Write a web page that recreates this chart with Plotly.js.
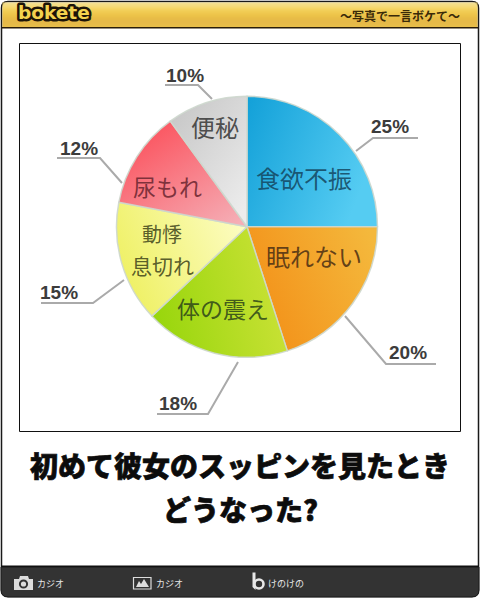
<!DOCTYPE html>
<html><head><meta charset="utf-8">
<script src="https://cdn.plot.ly/plotly-3.0.1.min.js"></script>
<style>html,body{margin:0;padding:0;background:#fff}#c{width:480px;height:598px}</style>
</head><body><div id="c"></div>
<script>
const categories = ['食欲不振','眠れない','体の震え','動悸 息切れ','尿もれ','便秘'];
const values = [25,20,18,15,12,10];
const percentLabels = ['25%','20%','18%','15%','12%','10%'];
const midColors = ['#36b4e4','#f4a52c','#b0dc24','#f6f68c','#f8808a','#d8d8d8'];
const gradientStops = [
  ['#12a0d8','#55ccf2',0,0,1,0.4],
  ['#f39018','#f4b83c',0,0.6,1,0.2],
  ['#98d60c','#cce238',0,0.6,1,0.4],
  ['#eef060','#fcfcc0',0,0.7,1,0.3],
  ['#fb5560','#f5aeb6',0.2,0.1,0.9,1],
  ['#c4c4c4','#ececec',0,0,0.8,1]
];
const W = 480, H = 598;
const px = x => x / W, py = y => 1 - y / H;
const font = 'Noto Sans CJK JP';

const shapes = [];
const rect = (x0,y0,x1,y1,fill,line,lw) => shapes.push({type:'rect',xref:'paper',yref:'paper',layer:'below',
  x0:px(x0),x1:px(x1),y0:py(y1),y1:py(y0),fillcolor:fill,line:{color:line||fill,width:lw||0}});
const circle = (cx,cy,r,fill,line,lw) => shapes.push({type:'circle',xref:'paper',yref:'paper',layer:'above',
  x0:px(cx-r),x1:px(cx+r),y0:py(cy+r),y1:py(cy-r),fillcolor:fill,line:{color:line||fill,width:lw||0}});
const path = (d,fill,line,lw,layer) => {
  const t = d.replace(/(-?[\d.]+),(-?[\d.]+)/g,(m,a,b)=>px(+a)+','+py(+b));
  shapes.push({type:'path',xref:'paper',yref:'paper',layer:layer||'below',path:t,fillcolor:fill||'rgba(0,0,0,0)',line:{color:line||'rgba(0,0,0,0)',width:lw||0}});
};
// outer frame
path('M1.5,28 L1.5,8 Q1.5,1.5 8,1.5 L472,1.5 Q478.5,1.5 478.5,8 L478.5,590 Q478.5,596.5 472,596.5 L8,596.5 Q1.5,596.5 1.5,590 Z','#fff','#1a1a1a',1.5);
// header gradient bands
const headerBands = ['#efd578','#f0d468','#f1d25c','#f2d052','#f2cd48','#f2ca3c','#f1c630','#f0c228','#eebe20','#ecba1a','#ebb716','#e9b412','#e7b10f','#e5ae0d','#e3ab0c','#e1a80b','#e0a60b','#dfa40b','#dea30b','#dda20c','#dda20c','#dea30c','#dfa50d','#e0a70e','#e1a90f'];
headerBands.forEach((c,i)=>rect(2.5,2.5+i,477.5,3.5+i,c));
rect(2,27,478,28.5,'#2a1c08');
// footer
path('M1,567 L479,567 L479,590 Q479,597 472,597 L8,597 Q1,597 1,590 Z','#333333','#1a1a1a',1);
rect(1,565.5,479,567,'#111');
// chart frame
rect(19.5,43.5,460.5,431.5,'#fff','#111',1);
// leader lines
const grey='#aaaaaa';
['M356,151 L373,138 L418,138','M345,316 L386,364 L436,364','M238,362 L208,414 L157,414',
 'M124,280 L93,303 L41,303','M122,183 L100,158 L57,158','M212,99 L198,85 L165,85'].forEach(l=>path(l,null,grey,2));
// footer icons
path('M14,579 L19,579 L20,576 L28,576 L29,579 L33,579 L33,590 L14,590 Z','#dcdcdc');
circle(23.5,584,3.6,'#dcdcdc','#333',2);
rect(133.5,577.5,151,589,'#333','#ddd',1.2);
path('M136,587 L139,581 L141,584 L144,579 L149,587 Z','#ddd',null,0,'above');
path('M252.5,572.5 L255.5,572.5 L255.5,590 L252.5,587 Z','#e8e8e8',null,0,'above');
circle(259,584,4.5,'#333','#e8e8e8',2.6);

const ann = (text,x,y,size,color,opts) => Object.assign({text,xref:'paper',yref:'paper',x:px(x),y:py(y),
  xanchor:'center',yanchor:'middle',showarrow:false,font:{family:font,size,color}},opts||{});
const annotations = [
  ann('食欲不振',304,177,24,'rgba(20,70,95,0.85)'),
  ann('眠れない',314,256,24,'rgba(80,50,20,0.88)'),
  ann('体の震え',223,308,23,'rgba(50,75,25,0.9)'),
  ann('動悸',162,233,20,'rgba(70,75,30,0.9)'),
  ann('息切れ',162,265,21,'rgba(70,75,30,0.9)'),
  ann('尿もれ',167,186,23,'rgba(110,40,50,0.88)'),
  ann('便秘',215,127,24,'rgba(60,60,60,0.9)'),
  ann('初めて彼女のスッピンを見たとき',240,465,28,'#0c0c0c',{font:{family:font,size:28,color:'#0c0c0c',weight:900}}),
  ann('どうなった?',240,509,28,'#0c0c0c',{font:{family:font,size:28,color:'#0c0c0c',weight:900}}),
  ann('〜写真で一言ボケて〜',400,16,12,'#3a2a08',{font:{family:font,size:12,color:'#3a2a08',weight:700}}),
  ann('bokete',53.5,13,18.5,'#f3d24e',{font:{family:'DejaVu Sans',size:18.5,color:'#f3d24e',weight:700}}),
  ann('カジオ',50,583,9,'#e6e6e6'),
  ann('カジオ',169,583,9,'#e6e6e6'),
  ann('けのけの',286,583,9,'#e6e6e6')
];
const pctPos = [[390,127],[408,352],[178,403],[59,292],[79,148],[185,75]];
percentLabels.forEach((t,i)=>annotations.push(ann(t,pctPos[i][0],pctPos[i][1],19,'#3c3c3c',
  {font:{family:'Liberation Sans',size:19,color:'#3c3c3c',weight:700}})));

const trace = {type:'pie',labels:categories,values,sort:false,direction:'clockwise',rotation:0,
  textinfo:'none',hoverinfo:'label+percent',showlegend:false,
  marker:{colors:midColors,line:{color:'rgba(205,215,205,0.9)',width:1.5}},
  domain:{x:[px(116.5),px(377.5)],y:[py(357.5),py(96)]}};
const layout = {width:W,height:H,margin:{l:0,r:0,t:0,b:0},paper_bgcolor:'#fff',showlegend:false,shapes,annotations};
Plotly.newPlot('c',[trace],layout,{displayModeBar:false,staticPlot:true}).then(gd=>{
  const NS='http://www.w3.org/2000/svg';
  const svg=gd.querySelector('svg.main-svg');
  const defs=document.createElementNS(NS,'defs');
  gradientStops.forEach((g,i)=>{
    const lg=document.createElementNS(NS,'linearGradient');
    lg.id='sliceGrad'+i;
    ['x1','y1','x2','y2'].forEach((k,j)=>lg.setAttribute(k,g[j+2]));
    [[0,g[0]],[1,g[1]]].forEach(s=>{const st=document.createElementNS(NS,'stop');
      st.setAttribute('offset',s[0]);st.setAttribute('stop-color',s[1]);lg.appendChild(st);});
    defs.appendChild(lg);
  });
  svg.insertBefore(defs,svg.firstChild);
  gd.querySelectorAll('.slice path.surface').forEach((p,i)=>{p.style.fill='url(#sliceGrad'+i+')';});
  gd.querySelectorAll('.annotation-text').forEach(t=>{
    const s=t.textContent;
    if(s==='bokete'){t.style.stroke='#1c1408';t.style.strokeWidth='5px';t.style.paintOrder='stroke';t.style.strokeLinejoin='round';}
    if(s.startsWith('初めて')||s.startsWith('どうなった')){t.style.stroke='#0c0c0c';t.style.strokeWidth='0.7px';}
  });
});
</script></body></html>
